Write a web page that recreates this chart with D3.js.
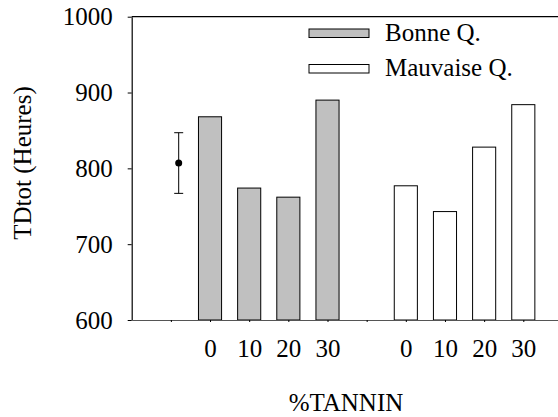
<!DOCTYPE html>
<html>
<head>
<meta charset="utf-8">
<script src="https://cdn.jsdelivr.net/npm/d3@7"></script>
<style>
  body { margin: 0; background: #fff; }
  svg text { font-family: "Liberation Serif", "Times New Roman", serif !important; }
</style>
</head>
<body>
<script>
// data
const tannin = [0, 10, 20, 30];
const bonneQ = [868, 774, 762, 890];
const mauvaiseQ = [777, 743, 828, 884];
const controlMean = 807;
const controlErr = 40;
const yTicks = [600, 700, 800, 900, 1000];
const seriesNames = ["Bonne Q.", "Mauvaise Q."];
const seriesFill = ["#c0c0c0", "#ffffff"];

const width = 558, height = 417;
const fontFam = "Times New Roman";

const svg = d3.select("body").append("svg")
    .attr("width", width)
    .attr("height", height)
    .attr("font-family", fontFam);

// slot positions along the x axis: 1 = control, 2-5 bonne, 6 gap, 7-10 mauvaise
const x = d3.scaleLinear().domain([0, 11]).range([131.7, 131.7 + 11 * 39.16]);
const y = d3.scaleLinear().domain([600, 1000]).range([320, 16.7]);

const barW = (x(1) - x(0)) * 0.59;

let bars = [];
tannin.forEach((t, i) => bars.push({pos: 2 + i, val: bonneQ[i], s: 0, t: t}));
tannin.forEach((t, i) => bars.push({pos: 7 + i, val: mauvaiseQ[i], s: 1, t: t}));

// top frame line
svg.append("line")
    .attr("x1", x(0)).attr("x2", width)
    .attr("y1", y(1000)).attr("y2", y(1000))
    .attr("stroke", "#000").attr("stroke-width", 1.2);

// bars
svg.selectAll(".bar")
    .data(bars)
    .enter()
    .append("rect")
    .attr("class", "bar")
    .attr("x", d => x(d.pos) - barW / 2)
    .attr("y", d => y(d.val))
    .attr("width", barW)
    .attr("height", d => y(600) - y(d.val))
    .attr("fill", d => seriesFill[d.s])
    .attr("stroke", "#000")
    .attr("stroke-width", 1);

// y axis
const yAxis = d3.axisLeft(y)
    .tickValues(yTicks)
    .tickSize(4)
    .tickSizeOuter(0)
    .tickPadding(15)
    .tickFormat(d3.format("d"));

const gy = svg.append("g")
    .attr("transform", "translate(" + x(0) + ",0)")
    .call(yAxis)
    .attr("font-family", fontFam)
    .attr("font-size", 25);
gy.selectAll("text").attr("fill", "#000");
gy.select(".domain").attr("stroke", "#000").attr("stroke-width", 1.2);

// x axis
const labelMap = {};
bars.forEach(d => labelMap[d.pos] = d.t);
const xAxis = d3.axisBottom(x)
    .tickValues(d3.range(1, 11))
    .tickSize(2)
    .tickSizeOuter(0)
    .tickPadding(17)
    .tickFormat(d => labelMap[d] !== undefined ? labelMap[d] : "");

const gx = svg.append("g")
    .attr("transform", "translate(0," + y(600) + ")")
    .call(xAxis)
    .attr("font-family", fontFam)
    .attr("font-size", 25);
gx.selectAll("text").attr("fill", "#000");
gx.select(".domain").attr("stroke", "#555").attr("stroke-width", 1.2);

// control point with error bar
const cx = x(1.2);
const eb = svg.append("g");
eb.append("line")
    .attr("x1", cx).attr("x2", cx)
    .attr("y1", y(controlMean + controlErr)).attr("y2", y(controlMean - controlErr))
    .attr("stroke", "#000");
[controlMean + controlErr, controlMean - controlErr].forEach(v => {
    eb.append("line")
        .attr("x1", cx - 4.5).attr("x2", cx + 4.5)
        .attr("y1", y(v)).attr("y2", y(v))
        .attr("stroke", "#000");
});
eb.append("circle")
    .attr("cx", cx).attr("cy", y(controlMean))
    .attr("r", 3.5)
    .attr("fill", "#000");

// legend
const legend = svg.selectAll(".legend")
    .data(seriesNames)
    .enter()
    .append("g")
    .attr("class", "legend")
    .attr("transform", (d, i) => "translate(309," + (29 + i * 35.5) + ")");

legend.append("rect")
    .attr("width", 60)
    .attr("height", 8.5)
    .attr("fill", (d, i) => seriesFill[i])
    .attr("stroke", "#000");

legend.append("text")
    .attr("x", 76)
    .attr("y", 11.5)
    .attr("font-size", 25)
    .text(d => d);

// axis titles
svg.append("text")
    .attr("transform", "rotate(-90)")
    .attr("x", -163)
    .attr("y", 31)
    .attr("text-anchor", "middle")
    .attr("font-size", 25)
    .text("TDtot (Heures)");

svg.append("text")
    .attr("x", 346)
    .attr("y", 411)
    .attr("text-anchor", "middle")
    .attr("font-size", 25)
    .text("%TANNIN");
</script>
</body>
</html>
